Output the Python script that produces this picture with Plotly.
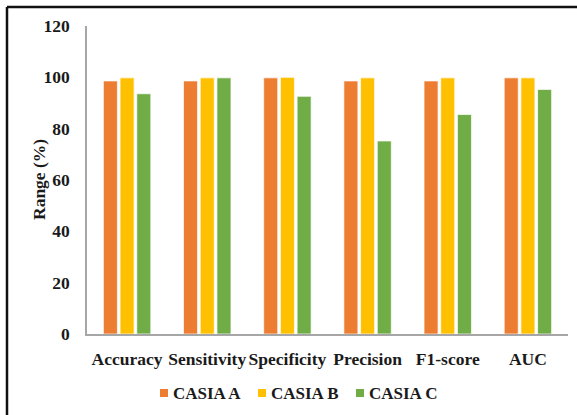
import plotly.graph_objects as go

metrics = ["Accuracy", "Sensitivity", "Specificity", "Precision", "F1-score", "AUC"]
casia_a = [98.6, 98.6, 99.8, 98.6, 98.6, 99.8]
casia_b = [99.8, 99.8, 100.0, 99.8, 99.8, 99.8]
casia_c = [93.6, 99.8, 92.6, 75.2, 85.5, 95.3]
series_names = ["CASIA A", "CASIA B", "CASIA C"]
series_colors = ["#ED7D31", "#FFC000", "#70AD47"]
y_ticks = [0, 20, 40, 60, 80, 100, 120]

W, H = 577, 415
L, R, T, B = 87, 9, 26, 81
plot_w, plot_h = W - L - R, H - T - B

font_family = "Liberation Serif"
text_col = "#1a1a1a"
bold = dict(family=font_family, size=17.5, color=text_col, weight="bold")


def px_x(p):
    return (p - L) / plot_w


def px_y(p):
    return (H - B - p) / plot_h


fig = go.Figure()
for name, vals, col in zip(series_names, [casia_a, casia_b, casia_c], series_colors):
    fig.add_trace(go.Bar(
        x=metrics, y=vals, name=name, showlegend=False,
        marker=dict(color=col, line=dict(color="rgba(255,255,255,0.7)", width=1)),
    ))

# outer frame (top and left edges)
frame = dict(type="line", xref="paper", yref="paper",
             line=dict(color="#111111", width=2.5))
shapes = [
    dict(frame, x0=px_x(7), y0=px_y(7), x1=px_x(W + 5), y1=px_y(7)),
    dict(frame, x0=px_x(7), y0=px_y(7), x1=px_x(7), y1=px_y(H + 5)),
]

# legend row below the category labels
annotations = []
legend_y = 393
for i, (name, col) in enumerate(zip(series_names, series_colors)):
    x0 = 160 + 98 * i
    shapes.append(dict(type="rect", xref="paper", yref="paper",
                       x0=px_x(x0), x1=px_x(x0 + 8),
                       y0=px_y(legend_y - 4), y1=px_y(legend_y + 4),
                       fillcolor=col, line=dict(width=0)))
    annotations.append(dict(text=name, xref="paper", yref="paper",
                            x=px_x(x0 + 11), y=px_y(legend_y),
                            xanchor="left", yanchor="middle", showarrow=False,
                            font=dict(bold, size=17)))

# y-axis title
annotations.append(dict(text="Range (%)", xref="paper", yref="paper",
                        x=px_x(39), y=px_y(180), textangle=-90,
                        xanchor="center", yanchor="middle", showarrow=False,
                        font=bold))

fig.update_layout(
    width=W, height=H,
    margin=dict(l=L, r=R, t=T, b=B, autoexpand=False),
    paper_bgcolor="white", plot_bgcolor="white",
    barmode="group", bargap=0.375, bargroupgap=0.16,
    font=dict(family=font_family, color=text_col, size=17),
    shapes=shapes, annotations=annotations,
    showlegend=False,
    xaxis=dict(
        showline=True, linecolor="#a6a6a6", linewidth=1.5,
        showgrid=False, ticks="", ticklabelstandoff=8,
        tickfont=bold,
    ),
    yaxis=dict(
        range=[0, 120], tickvals=y_ticks,
        showline=True, linecolor="#a6a6a6", linewidth=1.5,
        showgrid=False, zeroline=False, ticks="", ticklabelstandoff=12,
        tickfont=bold,
    ),
)

fig.write_html("out.html")
